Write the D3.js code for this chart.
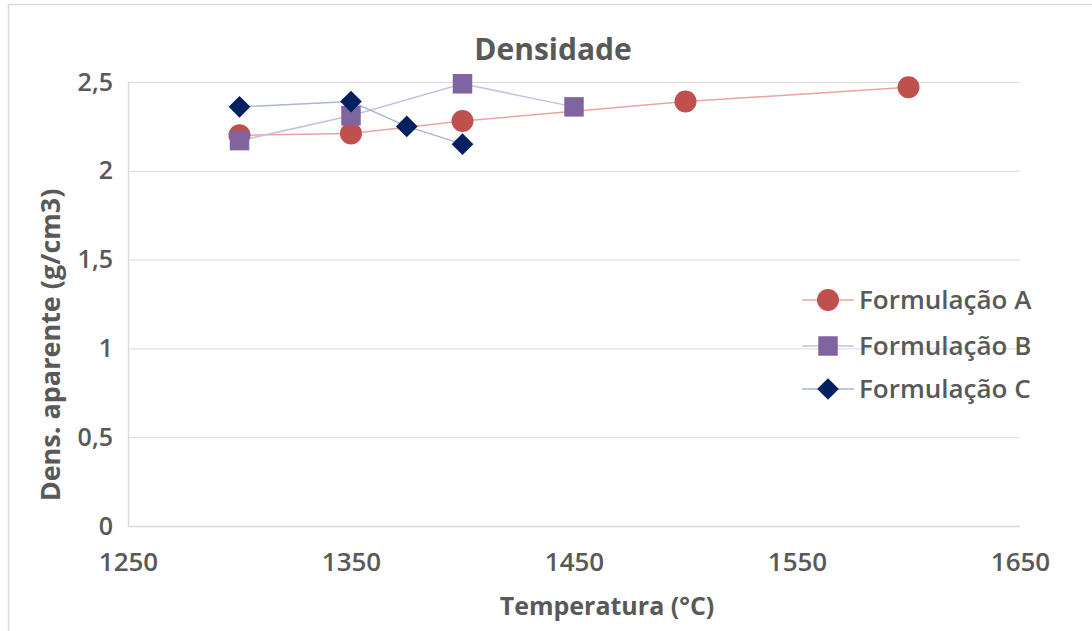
<!DOCTYPE html>
<html>
<head>
<meta charset="utf-8">
<script src="https://cdnjs.cloudflare.com/ajax/libs/d3/7.8.5/d3.min.js"></script>
<style>
  html, body { margin: 0; padding: 0; background: #fff; }
  svg text { font-family: "Open Sans", "Liberation Sans", sans-serif; }
</style>
</head>
<body>
<svg id="chart" width="1092" height="631"></svg>
<script>
// Densidade aparente por temperatura de queima
const tempA = [1300, 1350, 1400, 1500, 1600];
const densA = [2.20, 2.21, 2.28, 2.39, 2.47];
const tempB = [1300, 1350, 1400, 1450];
const densB = [2.17, 2.31, 2.49, 2.36];
const tempC = [1300, 1350, 1375, 1400];
const densC = [2.36, 2.39, 2.25, 2.15];

const xTicks = [1250, 1350, 1450, 1550, 1650];
const yTicks = [0, 0.5, 1, 1.5, 2, 2.5];
const seriesNames = ["Formulação A", "Formulação B", "Formulação C"];

const series = [
  { name: seriesNames[0], xs: tempA, ys: densA, shape: "circle",  fill: "#c0504d", line: "#eba3a2" },
  { name: seriesNames[1], xs: tempB, ys: densB, shape: "square",  fill: "#8064a2", line: "#cbbde3" },
  { name: seriesNames[2], xs: tempC, ys: densC, shape: "diamond", fill: "#002060", line: "#a9b7d4" }
];

const svg = d3.select("#chart");

// outer chart frame
svg.append("rect")
  .attr("x", 8.5).attr("y", 4.5).attr("width", 1100).attr("height", 700)
  .attr("fill", "#fff").attr("stroke", "#d9d9d9").attr("stroke-width", 1.5);

const x = d3.scaleLinear().domain([1250, 1650]).range([128, 1020]);
const y = d3.scaleLinear().domain([0, 2.5]).range([526, 82]);

const fmt = d => String(d).replace(".", ",");

// horizontal gridlines
svg.append("g")
  .attr("transform", "translate(128,0)")
  .call(d3.axisLeft(y).tickValues(yTicks.filter(d => d > 0)).tickSize(-(1020 - 128)).tickFormat(""))
  .call(g => g.select(".domain").remove())
  .call(g => g.selectAll("line").attr("stroke", "#d9d9d9").attr("stroke-width", 1));

// y-axis line and labels
const yAxis = svg.append("g")
  .attr("transform", "translate(128,0)")
  .call(d3.axisLeft(y).tickValues(yTicks).tickSize(0).tickPadding(15).tickFormat(fmt));
yAxis.select(".domain").attr("stroke", "#d9d9d9").attr("stroke-width", 1.5);
yAxis.selectAll("text")
  .attr("fill", "#595959").attr("font-size", 25).attr("font-weight", 600);

// x-axis line and labels
const xAxis = svg.append("g")
  .attr("transform", "translate(0,526)")
  .call(d3.axisBottom(x).tickValues(xTicks).tickSize(0).tickPadding(27).tickFormat(d3.format("d")));
xAxis.select(".domain").attr("stroke", "#d9d9d9").attr("stroke-width", 1.5);
xAxis.selectAll("text")
  .attr("fill", "#595959").attr("font-size", 26).attr("font-weight", 600);

// title
svg.append("text")
  .attr("x", 553).attr("y", 60).attr("text-anchor", "middle")
  .attr("fill", "#595959").attr("font-size", 30).attr("font-weight", 700)
  .text("Densidade");

// axis titles
svg.append("text")
  .attr("x", 607).attr("y", 615).attr("text-anchor", "middle")
  .attr("fill", "#595959").attr("font-size", 25).attr("font-weight", 700)
  .text("Temperatura (°C)");

svg.append("text")
  .attr("transform", "translate(60,345) rotate(-90)")
  .attr("text-anchor", "middle")
  .attr("fill", "#595959").attr("font-size", 27).attr("font-weight", 700)
  .text("Dens. aparente (g/cm3)");

const symbolFor = shape => {
  if (shape === "circle") return d3.symbol(d3.symbolCircle, 380);
  if (shape === "square") return d3.symbol(d3.symbolSquare, 380);
  return d3.symbol(d3.symbolDiamond2, 300);
};

const lineGen = d3.line().x(d => x(d[0])).y(d => y(d[1]));

series.forEach(s => {
  const pts = s.xs.map((v, i) => [v, s.ys[i]]);
  svg.append("path")
    .attr("d", lineGen(pts))
    .attr("fill", "none").attr("stroke", s.line).attr("stroke-width", 1.5);
});

series.forEach(s => {
  const pts = s.xs.map((v, i) => [v, s.ys[i]]);
  svg.append("g").selectAll("path")
    .data(pts).join("path")
    .attr("transform", d => `translate(${x(d[0])},${y(d[1])})`)
    .attr("d", symbolFor(s.shape)())
    .attr("fill", s.fill);
});

// legend
const legend = svg.append("g");
const rowY = [300, 346, 389];
series.forEach((s, i) => {
  const g = legend.append("g").attr("transform", `translate(828,${rowY[i]})`);
  g.append("line").attr("x1", -26).attr("x2", 26).attr("stroke", s.line).attr("stroke-width", 1.5);
  g.append("path").attr("d", symbolFor(s.shape)()).attr("fill", s.fill);
  g.append("text")
    .attr("x", 31).attr("dy", "0.36em")
    .attr("fill", "#595959").attr("font-size", 26).attr("font-weight", 600)
    .text(s.name);
});
</script>
</body>
</html>
